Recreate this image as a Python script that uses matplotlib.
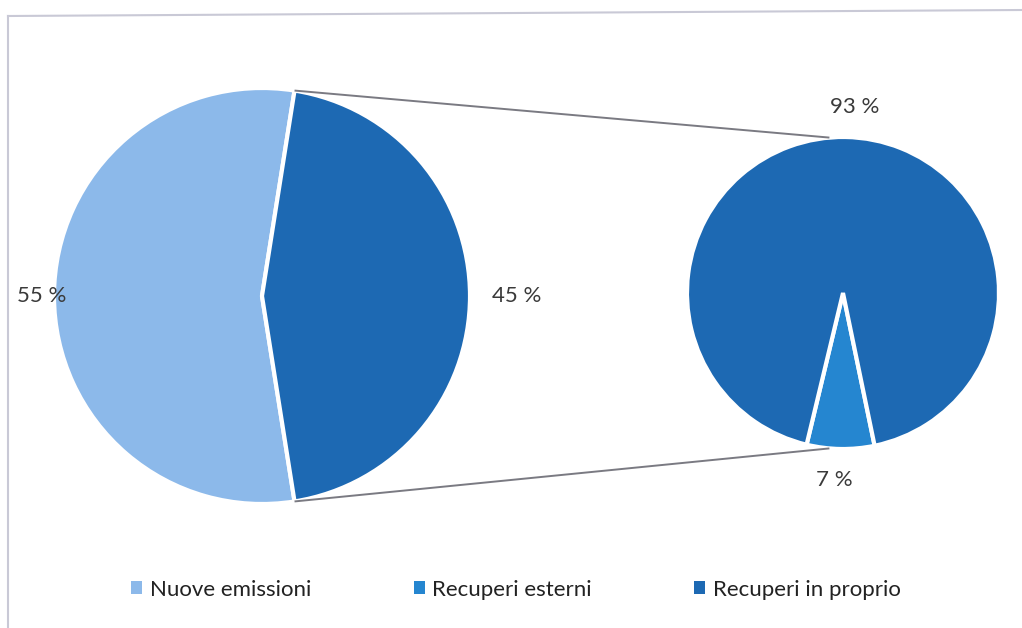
import numpy as np
import matplotlib.pyplot as plt
from matplotlib.patches import Patch

plt.rcParams['font.family'] = ['Lato', 'DejaVu Sans']

# main pie: new issues vs. recoveries
main_labels = ['Nuove emissioni', 'Recuperi']
main_values = [55, 45]

# breakdown of the recoveries slice
sub_labels = ['Recuperi esterni', 'Recuperi in proprio']
sub_values = [7, 93]

legend_labels = ['Nuove emissioni', 'Recuperi esterni', 'Recuperi in proprio']

c_light = '#8CB9EA'
c_mid = '#2586D0'
c_dark = '#1D69B3'
txt = '#3a3a3a'

W, H = 1022, 628
fig = plt.figure(figsize=(W / 100, H / 100), dpi=100)
ax = fig.add_axes([0, 0, 1, 1])

c1, r1 = (262, 332), 208
c2, r2 = (843, 335), 156

# the "other" slice sits centred on the right-hand side
w1, _, t1 = ax.pie(main_values, colors=[c_light, c_dark], center=c1, radius=r1,
                   startangle=81, autopct='%d %%', pctdistance=1.0,
                   wedgeprops=dict(edgecolor='white', linewidth=3),
                   textprops=dict(color=txt, fontsize=16))
w2, _, t2 = ax.pie(sub_values, colors=[c_mid, c_dark], center=c2, radius=r2,
                   startangle=-103.5, autopct='%d %%', pctdistance=1.0,
                   wedgeprops=dict(edgecolor='white', linewidth=3),
                   textprops=dict(color=txt, fontsize=16))


def place(texts, wedges, center, radius, factors, dx=(0, 0)):
    for t, w, f, d in zip(texts, wedges, factors, dx):
        a = np.deg2rad((w.theta1 + w.theta2) / 2)
        t.set_position((center[0] + f * radius * np.cos(a) + d,
                        center[1] + f * radius * np.sin(a)))
        t.set_ha('center')
        t.set_va('center')


place(t1, w1, c1, r1, [1.06, 1.225])
place(t2, w2, c2, r2, [1.2, 1.19], dx=(-6, 9))

# connector lines from the recoveries slice to the secondary pie
for th, th2 in [(w1[1].theta2, 95), (w1[1].theta1, -95)]:
    a, b = np.deg2rad(th), np.deg2rad(th2)
    ax.plot([c1[0] + r1 * np.cos(a), c2[0] + r2 * np.cos(b)],
            [c1[1] + r1 * np.sin(a), c2[1] + r2 * np.sin(b)],
            color='#7a7a82', lw=1.4, solid_capstyle='butt')

# chart area outline (top and left edge)
ax.plot([8, W], [H - 16, H - 10], color='#c9c9d6', lw=1.5)
ax.plot([8, 8], [H - 16, 0], color='#c9c9d6', lw=1.5)

ax.set_xlim(0, W)
ax.set_ylim(0, H)
ax.set_aspect('equal')
ax.axis('off')

handles = [Patch(facecolor=c) for c in [c_light, c_mid, c_dark]]
fig.legend(handles, legend_labels, ncol=3, loc='center',
           bbox_to_anchor=(0.505, 0.061), frameon=False,
           handlelength=0.5, handleheight=0.5, handletextpad=0.35,
           columnspacing=4.6, prop=dict(size=16), labelcolor='#222222')

fig.savefig('out.png', dpi=100)
